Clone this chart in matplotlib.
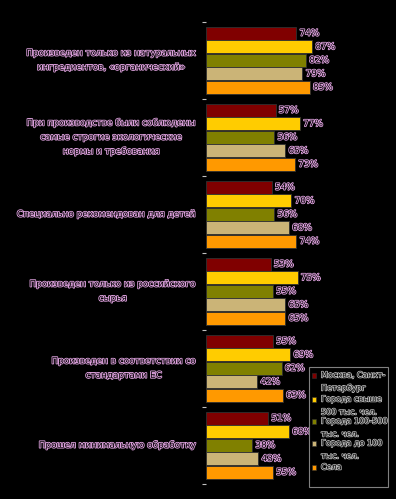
import matplotlib
matplotlib.use('Agg')
import matplotlib.pyplot as plt
import matplotlib.patheffects as pe
from matplotlib.patches import Rectangle
import numpy as np

categories = [
    'Произведен только из натуральных\nингредиентов, «органический»',
    'При производстве были соблюдены\nсамые строгие экологические\nнормы и требования',
    'Специально рекомендован для детей',
    'Произведен только из российского\nсырья',
    'Произведен в соответствии со\nстандартами ЕС',
    'Прошел минимальную обработку',
]
series = ['Москва, Санкт-\nПетербург', 'Города свыше\n500 тыс. чел.',
          'Города 100-500\nтыс. чел.', 'Города до 100\nтыс. чел.', 'Села']
values = [
    [74, 87, 82, 79, 85],
    [57, 77, 56, 65, 73],
    [54, 70, 56, 68, 74],
    [53, 75, 55, 65, 65],
    [55, 69, 62, 42, 63],
    [51, 68, 38, 43, 55],
]
colors = ['#800000', '#ffcc00', '#808000', '#cbb477', '#ff9900']

W, H = 396, 499
fig = plt.figure(figsize=(W / 100, H / 100), dpi=100, facecolor='black')
ax = fig.add_axes([205.7 / W, 1 - 483.7 / H, 122.5 / W, 462 / H])
ax.set_facecolor('black')
ax.set_xlim(0, 100)
ax.set_ylim(len(categories), 0)
for s in ax.spines.values():
    s.set_visible(False)
ax.set_xticks([])
ax.set_yticks(np.arange(len(categories) + 1))
ax.set_yticklabels([])
ax.tick_params(axis='y', length=3, width=0.8, color='#c0c0c0', pad=1)

fx = [pe.withStroke(linewidth=1.2, foreground='#dca0dc')]
txt = dict(color='black', fontsize=6.4, path_effects=fx)

pitch = 13.5 / 77
bh = 12.7 / 77
for i, row in enumerate(values):
    for j, v in enumerate(row):
        y = i + 0.5 + (j - 2) * pitch
        ax.barh(y, v, height=bh, color=colors[j], edgecolor='#303030',
                linewidth=0.6)
        ax.text(v + 2.6, y, f'{v}%', ha='left', va='center', **txt)
    ax.text(-8.1, i + 0.5, categories[i], ha='right', va='center',
            multialignment='center', linespacing=1.75, **txt)

# legend box
lx0, ly0, lx1, ly1 = 309, 367, 388, 487
fig.patches.append(Rectangle((lx0 / W, 1 - ly1 / H), (lx1 - lx0) / W,
                             (ly1 - ly0) / H, transform=fig.transFigure,
                             facecolor='black', edgecolor='#808080', lw=0.8))
marker_y = [375, 399, 421, 443, 467]
for j, name in enumerate(series):
    my = marker_y[j]
    fig.patches.append(Rectangle((311.5 / W, 1 - (my + 2.5) / H), 4.5 / W, 4.5 / H,
                                 transform=fig.transFigure, facecolor=colors[j],
                                 edgecolor='#303030', lw=0.4))
    lines = name.split('\n')
    for k, line in enumerate(lines):
        fig.text(321 / W, 1 - (my + k * 13) / H, line, ha='left', va='center',
                 color='black', fontsize=5.8,
                 path_effects=[pe.withStroke(linewidth=1.1, foreground='#b8b8b8')])

fig.savefig('out.png', dpi=100, facecolor='black')
